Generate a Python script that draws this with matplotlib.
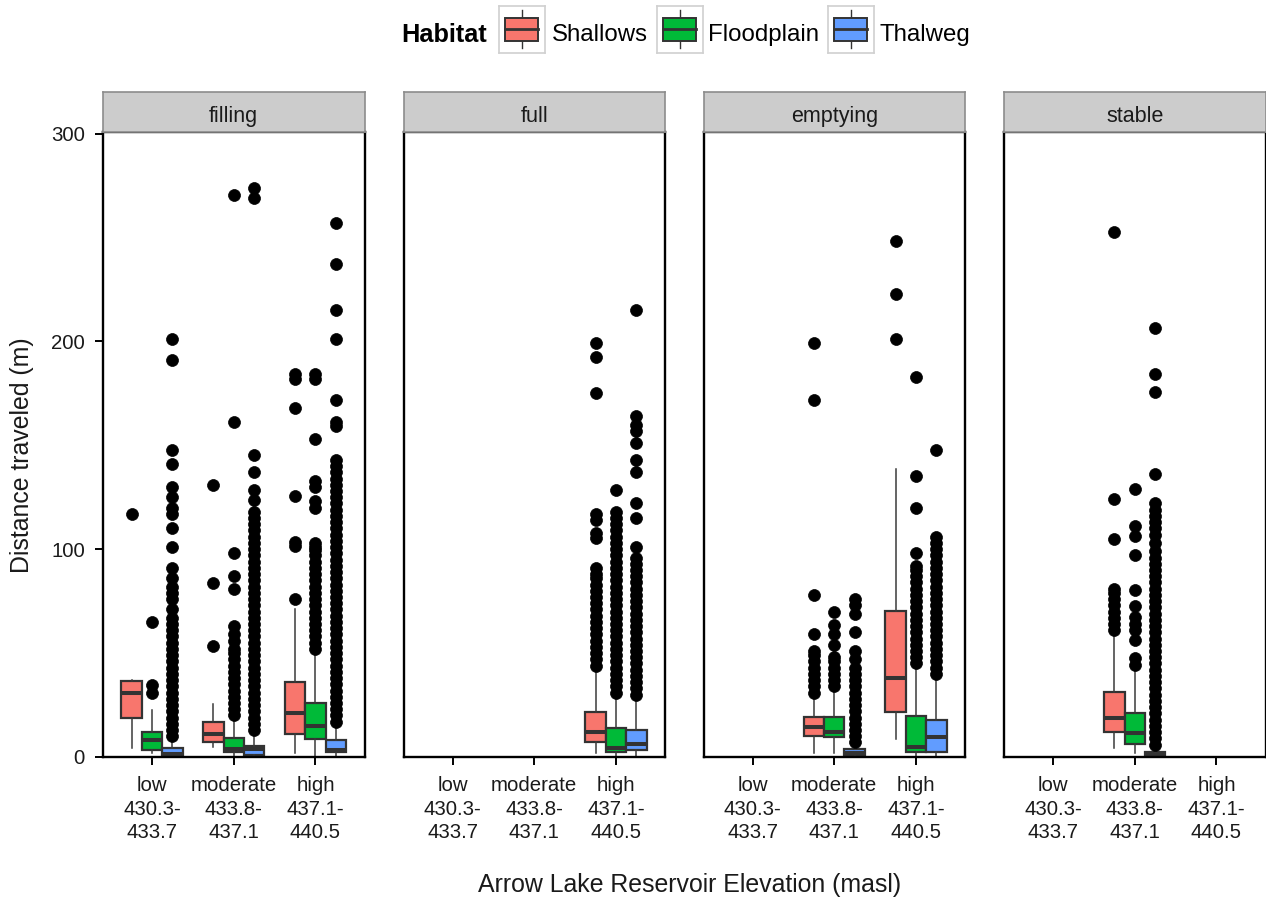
import matplotlib
matplotlib.use("Agg")
import matplotlib.pyplot as plt
from matplotlib.patches import Rectangle
from matplotlib.lines import Line2D

plt.rcParams['font.family'] = ['Liberation Sans', 'DejaVu Sans']

# ---------------- data ----------------
stages = ["filling", "full", "emptying", "stable"]
elevations = ["low", "moderate", "high"]
elev_labels = ["low\n430.3-\n433.7", "moderate\n433.8-\n437.1", "high\n437.1-\n440.5"]
habitats = ["Shallows", "Floodplain", "Thalweg"]
habitat_colors = ["#F8766D", "#00BA38", "#619CFF"]

# five-number summaries: (whisker low, q1, median, q3, whisker high)
shallows_stats = {
    ("filling", "low"): (4.5, 18.6, 30.6, 36.5, 37.2),
    ("filling", "moderate"): (4.7, 7.1, 11.0, 17.0, 25.5),
    ("filling", "high"): (2.0, 11.0, 21.0, 36.2, 71.0),
    ("full", "high"): (1.8, 7.4, 12.2, 21.8, 42.6),
    ("emptying", "moderate"): (1.8, 10.1, 14.6, 19.1, 29.8),
    ("emptying", "high"): (8.5, 21.8, 38.1, 70.2, 138.8),
    ("stable", "moderate"): (4.5, 12.2, 18.9, 31.4, 58.7),
}
floodplain_stats = {
    ("filling", "low"): (2.0, 3.4, 8.2, 12.2, 22.6),
    ("filling", "moderate"): (0.0, 2.2, 4.0, 9.3, 18.6),
    ("filling", "high"): (0.0, 8.5, 15.0, 25.8, 51.0),
    ("full", "high"): (0.0, 2.5, 4.2, 13.8, 29.8),
    ("emptying", "moderate"): (1.8, 9.5, 12.2, 19.1, 33.0),
    ("emptying", "high"): (0.0, 2.6, 5.0, 19.7, 43.4),
    ("stable", "moderate"): (1.8, 6.2, 11.4, 21.0, 42.1),
}
thalweg_stats = {
    ("filling", "low"): (0.0, 0.5, 1.3, 4.2, 9.0),
    ("filling", "moderate"): (0.0, 0.8, 4.0, 5.5, 11.9),
    ("filling", "high"): (0.0, 2.3, 3.4, 8.2, 16.5),
    ("full", "high"): (0.0, 3.4, 6.2, 13.0, 28.2),
    ("emptying", "moderate"): (0.0, 0.8, 2.0, 3.7, 6.6),
    ("emptying", "high"): (0.0, 2.2, 9.8, 17.8, 37.8),
    ("stable", "moderate"): (0.0, 0.5, 1.2, 2.5, 5.0),
}

shallows_outliers = {
    ("filling", "low"): [116.8],
    ("filling", "moderate"): [53.5, 83.5, 131],
    ("filling", "high"): [76, 101.5, 103.5, 125.5, 168, 182, 184.5],
    ("full", "high"): [44, 47, 50, 53, 56, 59, 62, 65, 68, 71, 74, 77, 80, 83, 86, 88,
                       91, 105.5, 108, 114, 117, 175, 192.5, 199],
    ("emptying", "moderate"): [31, 34, 37, 40, 43, 46, 49, 51, 59, 78, 172, 199],
    ("emptying", "high"): [201, 223, 248.5],
    ("stable", "moderate"): [61, 64, 67, 70, 73, 76, 79, 81, 105, 124, 252.5],
}
floodplain_outliers = {
    ("filling", "low"): [30.6, 34.6, 65.2],
    ("filling", "moderate"): [20, 23, 26, 29, 32, 35, 38, 41, 44, 47, 50, 52, 56, 59, 63,
                              81, 87, 98, 161, 270.5],
    ("filling", "high"): [52, 55, 58, 61, 64, 67, 70, 73, 76, 79, 82, 85, 88, 91, 94, 97,
                          99.5, 101, 103, 120, 123, 130, 133, 153, 182, 184.5],
    ("full", "high"): [31, 34, 37, 40, 43, 46, 49, 52, 55, 58, 61, 64, 67, 70, 73, 76, 79,
                       82, 85, 88, 91, 94, 97, 100, 103, 106, 109, 112, 115, 118, 128.5],
    ("emptying", "moderate"): [34, 37, 40, 43, 46, 48, 54, 59, 63.5, 70],
    ("emptying", "high"): [45, 48, 51, 54, 57, 60, 63, 66, 69, 72, 75, 78, 81, 84, 87, 90,
                           92, 98, 120, 135, 183],
    ("stable", "moderate"): [44.5, 47.5, 56.5, 61, 64, 67.5, 72.5, 80.5, 97, 106.5, 111, 129],
}
thalweg_outliers = {
    ("filling", "low"): [10, 13, 16, 19, 22, 25, 28, 31, 34, 37, 40, 43, 46, 49, 52, 55,
                         58, 61, 64, 67, 71, 76, 79, 82, 86, 91, 101, 110, 117, 120, 125,
                         130, 141, 147.5, 191, 201],
    ("filling", "moderate"): [13, 16, 19, 22, 25, 28, 31, 34, 37, 40, 43, 46, 49, 52, 55,
                              58, 61, 64, 67, 70, 73, 76, 79, 82, 85, 88, 91, 94, 97, 100,
                              103, 106, 109, 112, 115, 118, 123.5, 128.5, 137, 145.5, 269, 274],
    ("filling", "high"): [17, 20, 23, 26, 29, 32, 35, 38, 41, 44, 47, 50, 53, 56, 59, 62,
                          65, 68, 71, 74, 77, 80, 83, 86, 89, 92, 95, 98, 101, 104, 107,
                          110, 113, 116, 119, 122, 125, 128, 131, 134, 137, 140, 143,
                          159.5, 161, 172, 201, 215, 237, 257],
    ("full", "high"): [30, 33, 36, 39, 42, 45, 48, 51, 54, 57, 60, 63, 66, 69, 72, 75, 78,
                       81, 84, 87, 90, 93, 96, 101, 115, 122, 137, 143, 151, 157, 160,
                       164, 215],
    ("emptying", "moderate"): [7, 10, 13, 16, 19, 22, 25, 28, 31, 34, 37, 40, 43, 47, 51,
                               60, 69, 73, 76],
    ("emptying", "high"): [40, 43, 46, 49, 52, 55, 58, 61, 64, 67, 70, 73, 76, 79, 82, 85,
                           88, 91, 94, 97, 100, 103, 106, 147.5],
    ("stable", "moderate"): [6, 9, 12, 15, 18, 21, 24, 27, 30, 33, 36, 39, 42, 45, 48, 51,
                             54, 57, 60, 63, 66, 69, 72, 75, 78, 81, 84, 87, 90, 93, 96, 99,
                             103, 107, 110, 113, 116, 119, 122, 136, 175.5, 184.5, 206.5],
}

y_ticks = [0, 100, 200, 300]
y_label = "Distance traveled (m)"
x_label = "Arrow Lake Reservoir Elevation (masl)"
legend_title = "Habitat"

all_stats = [shallows_stats, floodplain_stats, thalweg_stats]
all_outliers = [shallows_outliers, floodplain_outliers, thalweg_outliers]

# ---------------- layout ----------------
W, H = 1266, 900
fig = plt.figure(figsize=(W / 100, H / 100), dpi=100)

def px_axes(x0, y0, x1, y1, **kw):
    return fig.add_axes([x0 / W, 1 - y1 / H, (x1 - x0) / W, (y1 - y0) / H], **kw)

panel_left = [103, 403.5, 703.5, 1004]
panel_w = 261.5
plot_top, plot_bot = 131.5, 757
strip_top = 92.3

offsets = [-0.25, 0.0, 0.25]
box_w = 0.25
edge = "#333333"
FS = 14.7          # tick labels / strip text
FS_TITLE = 17.9    # axis titles
FS_LEG = 17.3      # legend labels
FS_LEGT = 18.3     # legend title

for si, stage in enumerate(stages):
    x0 = panel_left[si]
    ax = px_axes(x0, plot_top, x0 + panel_w, plot_bot)
    for hi in range(3):
        stats, positions = [], []
        for ei, elev in enumerate(elevations):
            key = (stage, elev)
            if key in all_stats[hi]:
                wl, q1, med, q3, wh = all_stats[hi][key]
                stats.append(dict(whislo=wl, q1=q1, med=med, q3=q3, whishi=wh,
                                  fliers=all_outliers[hi].get(key, [])))
                positions.append(ei + 1 + offsets[hi])
        if stats:
            ax.bxp(stats, positions=positions, widths=box_w, patch_artist=True,
                   showcaps=False,
                   boxprops=dict(facecolor=habitat_colors[hi], edgecolor=edge, linewidth=1.6),
                   medianprops=dict(color=edge, linewidth=2.9),
                   whiskerprops=dict(color="#3a3a3a", linewidth=1.1),
                   flierprops=dict(marker='o', markerfacecolor='black',
                                   markeredgecolor='black', markersize=8.6,
                                   markeredgewidth=0.5))
    ax.set_xlim(0.4, 3.6)
    ax.set_ylim(0, 301)
    ax.set_xticks([1, 2, 3])
    ax.set_xticklabels(elev_labels, fontsize=FS, linespacing=1.3, color="#1a1a1a")
    ax.tick_params(axis='x', length=6, width=1.4, color="black", pad=8)
    if si == 0:
        ax.set_yticks(y_ticks)
        ax.set_yticklabels([str(v) for v in y_ticks], fontsize=FS, color="#1a1a1a")
        ax.tick_params(axis='y', length=6, width=1.4, color="black", pad=7)
    else:
        ax.set_yticks([])
    for sp in ax.spines.values():
        sp.set_color("black")
        sp.set_linewidth(1.7)

    # strip
    sax = px_axes(x0, strip_top, x0 + panel_w, plot_top)
    sax.set_facecolor("#CCCCCC")
    sax.set_xticks([])
    sax.set_yticks([])
    for sp in sax.spines.values():
        sp.set_color("#8c8c8c")
        sp.set_linewidth(1.2)
    sax.text(0.5, 0.37, stage, ha='center', va='center', fontsize=FS + 0.8, color="#1a1a1a",
             transform=sax.transAxes)

# axis titles
fig.text(22 / W, 1 - 455 / H, y_label, rotation=90, ha='center', va='center',
         fontsize=FS_TITLE, color="#1a1a1a")
fig.text(690 / W, 1 - 885 / H, x_label, ha='center', va='center', fontsize=FS_TITLE,
         color="#1a1a1a")

# legend
leg_cy = 35
fig.text(401.7 / W, 1 - leg_cy / H, legend_title, ha='left', va='center',
         fontsize=FS_LEGT, fontweight='bold', color="black")
key_left = [499.3, 657, 828]
text_left = [551.7, 708, 879]
for hi in range(3):
    kx = key_left[hi]
    kax = px_axes(kx, 6, kx + 46, 53)
    kax.set_xlim(0, 46)
    kax.set_ylim(47, 0)
    kax.set_xticks([])
    kax.set_yticks([])
    for sp in kax.spines.values():
        sp.set_color("#d0d0d0")
        sp.set_linewidth(1.2)
    kax.add_line(Line2D([23, 23], [4, 42.3], color=edge, lw=1.0))
    kax.add_patch(Rectangle((5.7, 12), 33.3, 22.7, facecolor=habitat_colors[hi],
                            edgecolor=edge, lw=1.4, zorder=3))
    kax.add_line(Line2D([5.7, 39], [23.3, 23.3], color=edge, lw=2.0, zorder=4))
    fig.text(text_left[hi] / W, 1 - leg_cy / H, habitats[hi], ha='left', va='center',
             fontsize=FS_LEG, color="black")

fig.savefig("out.png", dpi=100)
